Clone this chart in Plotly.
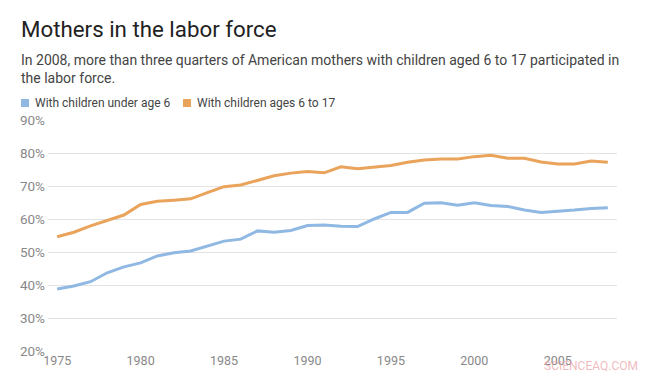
import plotly.graph_objects as go

years = list(range(1975, 2009))
under6 = [38.8, 39.7, 41.0, 43.7, 45.5, 46.7, 48.8, 49.8, 50.3, 51.8, 53.3,
          53.9, 56.4, 56.0, 56.5, 58.0, 58.2, 57.8, 57.7, 60.0, 62.0, 62.0,
          64.8, 64.9, 64.2, 64.9, 64.1, 63.8, 62.7, 62.0, 62.3, 62.7, 63.2, 63.4]
ages6to17 = [54.6, 56.0, 57.9, 59.6, 61.2, 64.4, 65.4, 65.7, 66.1, 68.0, 69.8,
             70.3, 71.8, 73.1, 73.9, 74.4, 74.0, 75.8, 75.2, 75.7, 76.2, 77.2,
             77.9, 78.2, 78.2, 78.9, 79.3, 78.4, 78.4, 77.3, 76.7, 76.7, 77.6, 77.2]
series_names = ["With children under age 6", "With children ages 6 to 17"]
colors = ["#8fb8e2", "#e9a35a"]
x_ticks = [1975, 1980, 1985, 1990, 1995, 2000, 2005]
y_ticks = [20, 30, 40, 50, 60, 70, 80, 90]
y_tick_labels = ["20%", "30%", "40%", "50%", "60%", "70%", "80%", "90%"]

FONT = "Roboto"
fig = go.Figure()
for name, vals, c in zip(series_names, [under6, ages6to17], colors):
    fig.add_trace(go.Scatter(x=years, y=vals, mode="lines", name=name,
                             line=dict(color=c, width=3), showlegend=False,
                             hovertemplate="%{x}: %{y}%<extra></extra>"))

L, R, T, B = 48, 37, 120, 24
W, H = 654, 375
pw, ph = W - L - R, H - T - B


def px(xpix):
    return (xpix - L) / pw


def py(ypix):
    return (H - B - ypix) / ph


# custom legend (square swatches + labels), built from series lists
legend_x = [21, 183]
shapes = []
annotations = []
for name, c, lx in zip(series_names, colors, legend_x):
    shapes.append(dict(type="rect", xref="paper", yref="paper",
                       x0=px(lx), x1=px(lx + 8), y0=py(107), y1=py(99),
                       fillcolor=c, line=dict(width=0)))
    annotations.append(dict(text=name, xref="paper", yref="paper",
                            x=px(lx + 12), y=py(103), xanchor="left",
                            yanchor="middle", showarrow=False,
                            font=dict(size=12, color="#444444", family=FONT)))

annotations += [
    dict(text="Mothers in the labor force", xref="paper", yref="paper",
         x=px(19), y=py(29), xanchor="left", yanchor="middle",
         showarrow=False, font=dict(size=22.3, color="#222222", family=FONT)),
    dict(text="In 2008, more than three quarters of American mothers with children aged 6 to 17 participated in<br>the labor force.",
         xref="paper", yref="paper", x=px(19), y=py(69), xanchor="left",
         yanchor="middle", align="left", showarrow=False,
         font=dict(size=14, color="#444444", family=FONT)),
    dict(text="SCIENCEAQ.COM", xref="paper", yref="paper", x=px(640),
         y=py(366), xanchor="right", yanchor="middle", showarrow=False,
         font=dict(size=12, color="rgba(235,165,170,0.75)", family=FONT)),
]

fig.update_layout(
    width=W, height=H,
    margin=dict(l=L, r=R, t=T, b=B, autoexpand=False),
    paper_bgcolor="white", plot_bgcolor="white",
    font=dict(family=FONT, color="#888888", size=12),
    showlegend=False,
    xaxis=dict(range=[1974.45, 2008.55], tickvals=x_ticks, showgrid=False,
               zeroline=False, showline=False, ticks="",
               tickfont=dict(size=12.5, color="#888888")),
    yaxis=dict(range=[20, 90], tickvals=y_ticks, ticktext=y_tick_labels,
               showgrid=True, gridcolor="#e3e3e3", gridwidth=1,
               zeroline=False, showline=False, ticks="", ticklabelstandoff=2,
               tickfont=dict(size=13.5, color="#888888")),
    shapes=shapes,
    annotations=annotations,
)

fig.write_html("out.html", config={"displayModeBar": False},
               post_script="document.body.style.margin='0';")
